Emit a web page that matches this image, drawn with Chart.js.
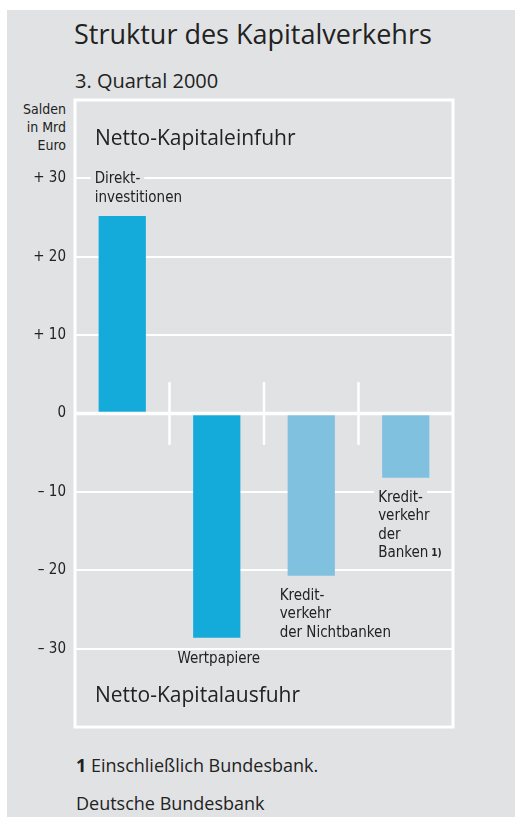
<!DOCTYPE html>
<html lang="de">
<head>
  <meta charset="UTF-8" />
  <title>Struktur des Kapitalverkehrs</title>
  <script src="https://cdn.jsdelivr.net/npm/chart.js"></script>
  <style>
    body {
      margin: 0;
      width: 515px;
      height: 817px;
      position: relative;
      overflow: hidden;
      background: #fff;
      font-family: "Open Sans", "Noto Sans", sans-serif;
      color: #222;
    }
    .panel {
      position: absolute;
      left: 7px;
      top: 10px;
      right: 0;
      bottom: 0;
      background: #e1e2e4;
    }
    .txt { position: absolute; white-space: nowrap; line-height: 1; }
    #title { left: 74px; top: 20px; font-size: 27px; }
    #subtitle { left: 75px; top: 71px; font-size: 20px; }
    #unit {
      right: 449px; top: 100px; text-align: right;
      font-family: "Liberation Sans Narrow", "DejaVu Sans Condensed", sans-serif;
      font-size: 14px; line-height: 18px; white-space: pre;
    }
    #note { left: 76px; top: 756px; font-size: 18px; }
    #source { left: 76px; top: 794px; font-size: 18px; }
    #chartBox { position: absolute; left: 0; top: 90px; width: 515px; height: 650px; }
  </style>
</head>
<body>
  <div class="panel"></div>
  <div class="txt" id="title">Struktur des Kapitalverkehrs</div>
  <div class="txt" id="subtitle">3. Quartal 2000</div>
  <div class="txt" id="unit">Salden
in Mrd
Euro</div>
  <div id="chartBox"><canvas id="chart"></canvas></div>
  <div class="txt" id="note"><b>1</b> Einschließlich Bundesbank.</div>
  <div class="txt" id="source">Deutsche Bundesbank</div>

  <script>
    const categories = ['Direktinvestitionen', 'Wertpapiere', 'Kreditverkehr der Nichtbanken', 'Kreditverkehr der Banken'];
    const values = [25.2, -28.6, -20.7, -8.2];
    const barColors = ['#14aad9', '#14aad9', '#80c1df', '#80c1df'];
    const barLabels = [
      ['Direkt-', 'investitionen'],
      ['Wertpapiere'],
      ['Kredit-', 'verkehr', 'der Nichtbanken'],
      ['Kredit-', 'verkehr', 'der', 'Banken']
    ];
    const yTicks = [-40, -30, -20, -10, 0, 10, 20, 30, 40];
    const zoneLabels = ['Netto-Kapitaleinfuhr', 'Netto-Kapitalausfuhr'];

    const GRAY = '#e1e2e4';
    const condensed = '"Liberation Sans Narrow", "DejaVu Sans Condensed", sans-serif';

    function tickText(v) {
      if (v === 40 || v === -40) return '';
      if (v > 0) return '+ ' + v;
      if (v < 0) return '\u2013 ' + Math.abs(v);
      return '0';
    }

    const decor = {
      id: 'decor',
      afterDatasetsDraw(chart) {
        const { ctx, chartArea: a, scales: { x, y } } = chart;
        ctx.save();
        ctx.strokeStyle = '#fff';

        // zero line
        ctx.lineWidth = 3.5;
        ctx.beginPath();
        ctx.moveTo(a.left, y.getPixelForValue(0));
        ctx.lineTo(a.right, y.getPixelForValue(0));
        ctx.stroke();

        // short separators between categories
        ctx.lineWidth = 2.5;
        for (let i = 0; i < categories.length - 1; i++) {
          const sx = (x.getPixelForValue(i) + x.getPixelForValue(i + 1)) / 2;
          ctx.beginPath();
          ctx.moveTo(sx, y.getPixelForValue(4));
          ctx.lineTo(sx, y.getPixelForValue(-4));
          ctx.stroke();
        }

        // frame
        ctx.lineWidth = 3;
        ctx.strokeRect(a.left, a.top, a.right - a.left, a.bottom - a.top);

        // zone labels
        ctx.fillStyle = '#222';
        ctx.textBaseline = 'middle';
        ctx.textAlign = 'left';
        ctx.font = '21px "Open Sans", "Noto Sans", sans-serif';
        ctx.fillText(zoneLabels[0], a.left + 20, y.getPixelForValue(35));
        ctx.fillText(zoneLabels[1], a.left + 20, y.getPixelForValue(-36));

        // bar labels with gray backing
        ctx.font = '15px ' + condensed;
        const meta = chart.getDatasetMeta(0);
        const lh = 18.5;
        barLabels.forEach((lines, i) => {
          const bar = meta.data[i];
          const left = bar.x - bar.width / 2;
          const v = values[i];
          let y0, align, tx;
          if (v >= 0) {
            y0 = bar.y - 18 - lh * (lines.length - 1);
            align = 'left'; tx = left - 4;
          } else if (i === 1) {
            y0 = bar.y + 21; align = 'center'; tx = bar.x + 2;
          } else {
            y0 = bar.y + 20; align = 'left'; tx = left - (i === 2 ? 8 : 4);
          }
          lines.forEach((line, k) => {
            const ly = y0 + k * lh;
            const w = ctx.measureText(line).width;
            const bx = align === 'center' ? tx - w / 2 : tx;
            ctx.fillStyle = GRAY;
            ctx.fillRect(bx - 4, ly - 8, w + 8, 16);
            ctx.fillStyle = '#222';
            ctx.textAlign = align;
            ctx.fillText(line, tx, ly);
            if (i === 3 && k === lines.length - 1) {
              ctx.font = 'bold 10px ' + condensed;
              ctx.textAlign = 'left';
              ctx.fillText('1)', tx + w + 3, ly);
              ctx.font = '15px ' + condensed;
            }
          });
        });
        ctx.restore();
      }
    };

    new Chart(document.getElementById('chart'), {
      type: 'bar',
      data: {
        labels: categories,
        datasets: [{
          data: values,
          backgroundColor: barColors,
          borderWidth: 0,
          categoryPercentage: 1,
          barPercentage: 0.5
        }]
      },
      options: {
        responsive: true,
        maintainAspectRatio: false,
        animation: false,
        layout: { padding: { left: 0, right: 62, top: 10, bottom: 13 } },
        plugins: { legend: { display: false }, tooltip: { enabled: false } },
        scales: {
          x: { display: false },
          y: {
            min: -40,
            max: 40,
            afterBuildTicks: s => { s.ticks = yTicks.map(v => ({ value: v })); },
            afterFit: s => { s.width = 75; s.paddingTop = 0; s.paddingBottom = 0; },
            border: { display: false },
            grid: { color: '#fff', lineWidth: 2, drawTicks: false },
            ticks: {
              padding: 9,
              color: '#222',
              font: { family: condensed, size: 15 },
              callback: v => tickText(v)
            }
          }
        }
      },
      plugins: [decor]
    });
  </script>
</body>
</html>
